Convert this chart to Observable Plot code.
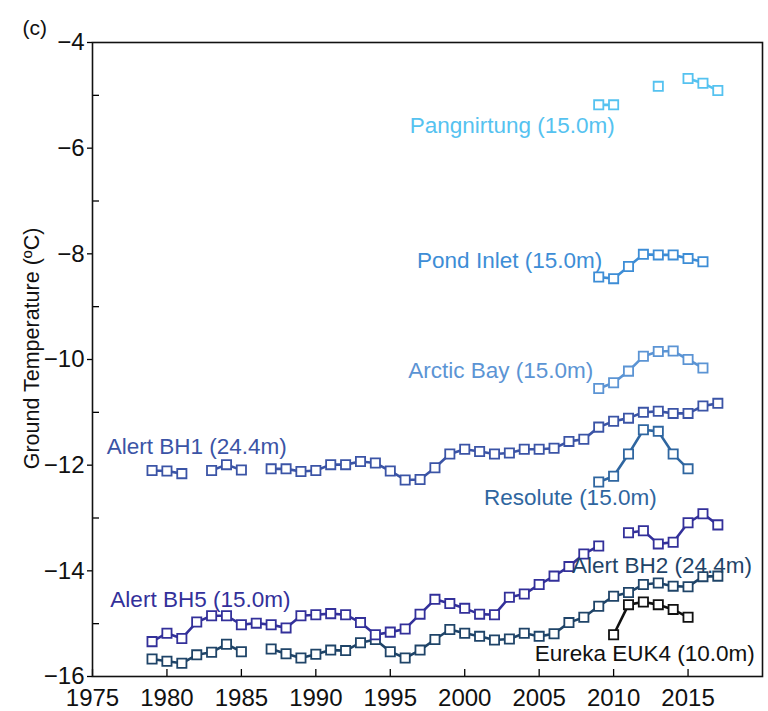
<!DOCTYPE html>
<html>
<head>
<meta charset="utf-8">
<script src="https://cdn.jsdelivr.net/npm/d3@7"></script>
<script src="https://cdn.jsdelivr.net/npm/@observablehq/plot@0.6"></script>
<style>
  html, body { margin: 0; padding: 0; background: #fff; }
  #chart svg { display: block; font-family: "Liberation Sans", Arial, sans-serif; }
</style>
</head>
<body>
<div id="chart"></div>
<script>
// ---- Data ----
const years = d3.range(1979, 2018); // 1979..2017

const alertBH1 = [-12.10, -12.11, -12.16, null, -12.10, -11.99, -12.09, null, -12.07, -12.07,
  -12.12, -12.10, -11.99, -11.99, -11.93, -11.96, -12.11, -12.28, -12.27, -12.05,
  -11.79, -11.70, -11.74, -11.79, -11.77, -11.70, -11.70, -11.68, -11.55, -11.51,
  -11.28, -11.17, -11.11, -11.00, -10.98, -11.02, -11.02, -10.88, -10.83];

const alertBH5 = [-15.34, -15.18, -15.28, -14.97, -14.85, -14.85, -15.02, -14.99, -15.02, -15.08,
  -14.85, -14.83, -14.81, -14.83, -14.98, -15.21, -15.16, -15.10, -14.82, -14.54,
  -14.62, -14.71, -14.82, -14.83, -14.50, -14.44, -14.26, -14.10, -13.92, -13.68,
  -13.53, null, -13.28, -13.24, -13.49, -13.46, -13.09, -12.92, -13.13];

const alertBH2 = [-15.67, -15.71, -15.75, -15.59, -15.54, -15.39, -15.53, null, -15.48, -15.57,
  -15.65, -15.58, -15.50, -15.51, -15.36, -15.30, -15.53, -15.65, -15.50, -15.30,
  -15.11, -15.18, -15.24, -15.31, -15.29, -15.18, -15.24, -15.19, -14.98, -14.88,
  -14.67, -14.48, -14.41, -14.26, -14.23, -14.29, -14.30, -14.11, -14.10];

const recentYears = d3.range(2009, 2018); // 2009..2017
const resolute    = [-12.32, -12.21, -11.79, -11.33, -11.36, -11.79, -12.07, null, null];
const arcticBay   = [-10.55, -10.44, -10.22, -9.94, -9.85, -9.84, -10.00, -10.16, null];
const pondInlet   = [-8.44, -8.47, -8.24, -8.01, -8.02, -8.02, -8.09, -8.15, null];
const pangnirtung = [-5.18, -5.18, null, null, -4.83, null, -4.68, -4.77, -4.91];
const eureka      = [null, -15.21, -14.64, -14.59, -14.64, -14.73, -14.88, null, null];

const stationNames = ["Pangnirtung (15.0m)", "Pond Inlet (15.0m)", "Arctic Bay (15.0m)",
  "Alert BH1 (24.4m)", "Resolute (15.0m)", "Alert BH2 (24.4m)", "Alert BH5 (15.0m)", "Eureka EUK4 (10.0m)"];
const stationColors = ["#55c2f0", "#3d8dd6", "#5b94d4", "#3b54a6", "#2f66a0", "#1f4468", "#33309a", "#111111"];
// label anchor positions in data units (year, °C)
const labelYear = [1996.3, 1996.8, 1996.2, 1975.95, 2001.3, 2007.2, 1976.2, 2004.7];
const labelTemp = [-5.57, -8.14, -10.21, -11.66, -12.62, -13.90, -14.54, -15.57];

const xTickValues = d3.range(1975, 2020, 5);
const yMajorTicks = [-4, -6, -8, -10, -12, -14, -16];
const yMinorTicks = [-5, -7, -9, -11, -13, -15];

// ---- Build tables ----
function rows(ys, vals) { return ys.map((y, i) => ({year: y, value: vals[i]})); }
const series = [
  {data: rows(recentYears, pangnirtung), color: stationColors[0]},
  {data: rows(recentYears, pondInlet),   color: stationColors[1]},
  {data: rows(recentYears, arcticBay),   color: stationColors[2]},
  {data: rows(years, alertBH1),          color: stationColors[3]},
  {data: rows(recentYears, resolute),    color: stationColors[4]},
  {data: rows(years, alertBH2),          color: stationColors[5]},
  {data: rows(years, alertBH5),          color: stationColors[6]},
  {data: rows(recentYears, eureka),      color: stationColors[7]}
];
const labels = stationNames.map((name, i) => ({name, year: labelYear[i], temp: labelTemp[i], color: stationColors[i]}));

const seriesMarks = [];
for (const s of series) {
  seriesMarks.push(Plot.line(s.data, {x: "year", y: "value", stroke: s.color, strokeWidth: 2.6}));
}
for (const s of series) {
  seriesMarks.push(Plot.dot(s.data.filter(d => d.value != null), {
    x: "year", y: "value", symbol: "square", r: 5.2, stroke: s.color, fill: "white", strokeWidth: 1.8
  }));
}

const chart = Plot.plot({
  width: 768,
  height: 711,
  marginLeft: 92,
  marginRight: 6,
  marginTop: 42,
  marginBottom: 35,
  x: {domain: [1975, 2020], label: null},
  y: {domain: [-16, -4], label: null},
  marks: [
    // x ticks (inward) and labels
    Plot.axisX(xTickValues, {tickSize: -7, tickFormat: () => "", strokeWidth: 1.3}),
    Plot.axisX(xTickValues, {tickSize: 0, tickPadding: 12, fontSize: 24, tickFormat: d => String(d), fill: "#111"}),
    // y major ticks (outward) with labels, minor ticks (inward)
    Plot.axisY(yMajorTicks, {tickSize: 5, tickPadding: 3, fontSize: 24, strokeWidth: 1.3, fill: "#111",
      tickFormat: d => "\u2212" + Math.abs(d)}),
    Plot.axisY(yMinorTicks, {tickSize: -7, tickFormat: () => "", strokeWidth: 1.3}),
    Plot.frame({stroke: "#111", strokeWidth: 1.6}),
    ...seriesMarks,
    Plot.text(labels, {x: "year", y: "temp", text: "name", fill: "color", textAnchor: "start", fontSize: 22.5}),
    Plot.text(["Ground Temperature (ºC)"], {frameAnchor: "left", textAnchor: "middle", lineAnchor: "middle",
      rotate: -90, dx: -60, dy: -11, fontSize: 21.5, fill: "#111"}),
    Plot.text(["(c)"], {frameAnchor: "top-left", textAnchor: "start", lineAnchor: "middle",
      dx: -70, dy: -14, fontSize: 21, fill: "#111"})
  ]
});
document.getElementById("chart").appendChild(chart);
</script>
</body>
</html>
